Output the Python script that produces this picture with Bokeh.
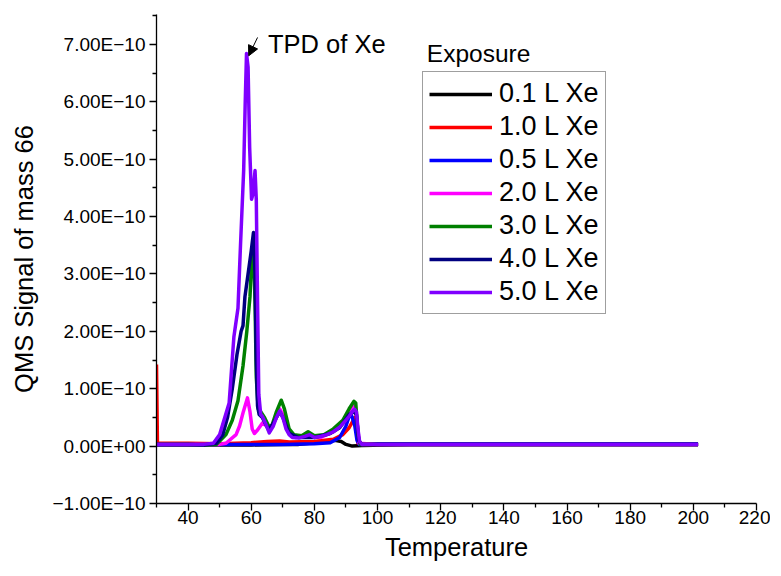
import numpy as np
from bokeh.plotting import figure
from bokeh.models import (FixedTicker, CustomJSTickFormatter, Label, Arrow,
                          NormalHead, Range1d)
from bokeh.embed import file_html
from bokeh.resources import INLINE

FONT = "Liberation Sans"
UNIT = 1e-10  # values below are given in units of 1e-10

series_names = ["0.1 L Xe", "1.0 L Xe", "0.5 L Xe", "2.0 L Xe",
                "3.0 L Xe", "4.0 L Xe", "5.0 L Xe"]
series_colors = ["#000000", "#ff0000", "#0000ff", "#ff00ff",
                 "#008000", "#000080", "#8000ff"]

# 0.1 L Xe
t_01 = [30, 40, 50, 60, 70, 75, 80, 84, 86.5, 88.5, 90, 92, 95,
        110, 130, 150, 170, 190, 201.5]
s_01 = [0.02, 0.02, 0.02, 0.02, 0.03, 0.03, 0.06, 0.09, 0.10, 0.08, 0.03, 0.0, 0.01,
        0.03, 0.03, 0.03, 0.03, 0.03, 0.03]

# 1.0 L Xe
t_10 = [30.0, 30.3, 35, 40, 50, 60, 65, 69, 72, 80, 86, 89, 91, 92.3, 92.8, 93.3, 93.8, 95,
        110, 130, 150, 170, 190, 201.5]
s_10 = [1.42, 0.05, 0.05, 0.05, 0.04, 0.06, 0.08, 0.09, 0.07, 0.08, 0.12, 0.2, 0.32, 0.45, 0.5, 0.3, 0.05, 0.03,
        0.03, 0.03, 0.03, 0.03, 0.03, 0.03]

# 0.5 L Xe
t_05 = [30, 40, 50, 60, 70, 80, 85, 88, 90, 91.3, 92, 92.8, 93.5, 94.2,
        100, 120, 140, 160, 180, 201.5]
s_05 = [0.03, 0.03, 0.03, 0.03, 0.03, 0.04, 0.06, 0.15, 0.35, 0.57, 0.5, 0.35, 0.1, 0.03,
        0.04, 0.04, 0.04, 0.04, 0.04, 0.04]

# 2.0 L Xe
t_20 = [30, 40, 50, 52, 55.2, 56.3, 57.5, 58.8, 59.6, 60.3, 61, 62, 63.5, 65, 66, 67.5, 69,
        70.5, 72, 74, 78, 82, 86, 89, 91, 92.5, 93.3, 94.2,
        100, 120, 140, 160, 180, 201.5]
s_20 = [0.03, 0.03, 0.03, 0.05, 0.2, 0.35, 0.6, 0.84, 0.6, 0.3, 0.22, 0.28, 0.4, 0.35, 0.3, 0.45, 0.65,
        0.5, 0.25, 0.15, 0.18, 0.15, 0.25, 0.4, 0.55, 0.7, 0.55, 0.05,
        0.03, 0.03, 0.03, 0.03, 0.03, 0.03]

# 3.0 L Xe
t_30 = [30, 40, 45, 49, 52, 54, 55.8, 57.4, 58.6, 59.6, 60.3, 60.7, 61.2, 61.6, 62.2, 63, 64.2,
        65.5, 66.5, 68, 69.5, 70.5, 72, 73.5, 76, 78, 80, 83, 86, 89, 91, 92.5, 93.1, 93.8, 94.5,
        100, 120, 140, 160, 180, 201.5]
s_30 = [0.03, 0.03, 0.02, 0.03, 0.2, 0.45, 0.79, 1.4, 2.0, 2.6, 3.4, 3.6, 2.5, 1.2, 0.65, 0.6, 0.5,
        0.35, 0.35, 0.6, 0.8, 0.65, 0.3, 0.2, 0.18, 0.25, 0.18, 0.2, 0.3, 0.45, 0.65, 0.78, 0.75, 0.2, 0.03,
        0.03, 0.03, 0.03, 0.03, 0.03, 0.03]

# 4.0 L Xe
t_40 = [30, 40, 45, 49, 51, 52.5, 54, 55.5, 56.8, 57.4, 58, 59, 60, 60.7, 61.2, 61.6, 62, 62.5,
        63.5, 65.5, 67, 69, 70, 72, 75, 80, 85, 88, 91, 92.5, 93.3, 94, 95,
        100, 120, 140, 160, 180, 201.5]
s_40 = [0.03, 0.03, 0.02, 0.05, 0.2, 0.5, 1.0, 1.6, 2.0, 2.1, 2.6, 3.0, 3.4, 3.72, 3.0, 1.5, 0.7, 0.55,
        0.5, 0.28, 0.4, 0.6, 0.5, 0.22, 0.15, 0.15, 0.22, 0.32, 0.55, 0.6, 0.55, 0.1, 0.03,
        0.03, 0.03, 0.03, 0.03, 0.03, 0.03]

# 5.0 L Xe
t_50 = [30, 40, 45, 48, 50, 53, 54.5, 55.8, 56.6, 57.6, 58.1, 58.5, 59, 59.5, 60.1, 60.6, 61.2,
        61.6, 62, 62.4, 63, 63.5, 64.5, 65.7, 67, 68, 69, 70, 71, 72, 73, 75, 77, 78.5, 80, 82, 84,
        86, 88, 89.5, 91, 92, 92.8, 93.3, 93.8, 94.3, 95,
        100, 120, 140, 160, 180, 201.5]
s_50 = [0.03, 0.03, 0.03, 0.05, 0.2, 0.75, 1.9, 2.4, 3.5, 4.8, 6.0, 6.84, 6.6, 5.2, 4.3, 4.4, 4.8,
        4.3, 2.5, 0.9, 0.55, 0.52, 0.4, 0.23, 0.35, 0.5, 0.61, 0.5, 0.3, 0.2, 0.15, 0.14, 0.17, 0.2, 0.15, 0.17, 0.2,
        0.25, 0.33, 0.42, 0.52, 0.6, 0.64, 0.6, 0.3, 0.08, 0.03,
        0.03, 0.03, 0.03, 0.03, 0.03, 0.03]

series_t = [t_01, t_10, t_05, t_20, t_30, t_40, t_50]
series_s = [s_01, s_10, s_05, s_20, s_30, s_40, s_50]

x_major = [40, 60, 80, 100, 120, 140, 160, 180, 200, 220]
x_minor = [30, 50, 70, 90, 110, 130, 150, 170, 190, 210]
y_major = [-1e-10, 0.0, 1e-10, 2e-10, 3e-10, 4e-10, 5e-10, 6e-10, 7e-10]
y_minor = [-0.5e-10, 0.5e-10, 1.5e-10, 2.5e-10, 3.5e-10, 4.5e-10, 5.5e-10, 6.5e-10, 7.5e-10]

x_title = "Temperature"
y_title = "QMS Signal of mass 66"
annot_text = "TPD of Xe"
annot_xy = (65.3, 7.01e-10)
arrow_from = (62.0, 7.12e-10)
arrow_to = (59.2, 6.80e-10)
legend_title = "Exposure"
legend_title_xy = (115.6, 6.84e-10)

p = figure(width=770, height=568, output_backend="svg", toolbar_location=None,
           x_range=Range1d(30, 220), y_range=Range1d(-1e-10, 7.52e-10),
           min_border_left=156, min_border_right=14, min_border_top=14, min_border_bottom=65)
p.outline_line_color = None
p.grid.visible = False
p.background_fill_color = "white"
p.border_fill_color = "white"

for name, color, t, s in zip(series_names, series_colors, series_t, series_s):
    assert len(t) == len(s), name
    p.line(np.array(t), np.array(s) * UNIT, line_color=color, line_width=3.5,
           legend_label=name, line_join="round")

# axes
for ax in (p.xaxis[0], p.yaxis[0]):
    ax.axis_line_width = 1.3
    ax.axis_line_color = "black"
    ax.major_tick_line_color = "black"
    ax.minor_tick_line_color = "black"
    ax.major_tick_line_width = 1.3
    ax.minor_tick_line_width = 1.3
    ax.major_tick_in = 0
    ax.major_tick_out = 7
    ax.minor_tick_in = 0
    ax.minor_tick_out = 4
    ax.major_label_text_font = FONT
    ax.major_label_text_font_size = "19px"
    ax.major_label_text_color = "black"
    ax.axis_label_text_font = FONT
    ax.axis_label_text_font_size = "25.5px"
    ax.axis_label_text_font_style = "normal"
    ax.axis_label_text_color = "black"

p.xaxis[0].ticker = FixedTicker(ticks=x_major, minor_ticks=x_minor)
p.yaxis[0].ticker = FixedTicker(ticks=y_major, minor_ticks=y_minor)
p.xaxis[0].axis_label = x_title
p.xaxis[0].major_label_standoff = 0
p.xaxis[0].axis_label_standoff = 6
p.yaxis[0].axis_label = y_title
p.yaxis[0].major_label_standoff = 4
p.yaxis[0].axis_label_standoff = 12
p.yaxis[0].formatter = CustomJSTickFormatter(code="""
    if (Math.abs(tick) < 1e-20) { return "0.00E+00"; }
    const a = Math.abs(tick);
    const e = Math.floor(Math.log10(a) + 1e-9);
    const m = a / Math.pow(10, e);
    const sign = tick < 0 ? "\u2212" : "";
    const es = (e < 0 ? "\u2212" : "+") + String(Math.abs(e)).padStart(2, "0");
    return sign + m.toFixed(2) + "E" + es;
""")

# legend
lg = p.legend[0]
lg.location = (266, 189)
lg.label_text_font = FONT
lg.label_text_font_size = "27px"
lg.label_text_color = "black"
lg.glyph_width = 63
lg.glyph_height = 30
lg.label_height = 30
lg.label_standoff = 7
lg.spacing = 2
lg.padding = 6
lg.margin = 0
lg.border_line_color = "#404040"
lg.border_line_width = 1
lg.background_fill_color = "white"
lg.background_fill_alpha = 1.0

p.add_layout(Label(x=legend_title_xy[0], y=legend_title_xy[1], text=legend_title,
                   text_font=FONT, text_font_size="24.5px", text_color="black",
                   text_baseline="middle", text_align="left"))

p.add_layout(Label(x=annot_xy[0], y=annot_xy[1], text=annot_text,
                   text_font=FONT, text_font_size="25.5px", text_color="black",
                   text_baseline="middle", text_align="left"))
p.add_layout(Arrow(end=NormalHead(size=10, fill_color="black", line_color="black"),
                   x_start=arrow_from[0], y_start=arrow_from[1],
                   x_end=arrow_to[0], y_end=arrow_to[1],
                   line_color="black", line_width=1))

open("out.html", "w").write(file_html(p, INLINE))
